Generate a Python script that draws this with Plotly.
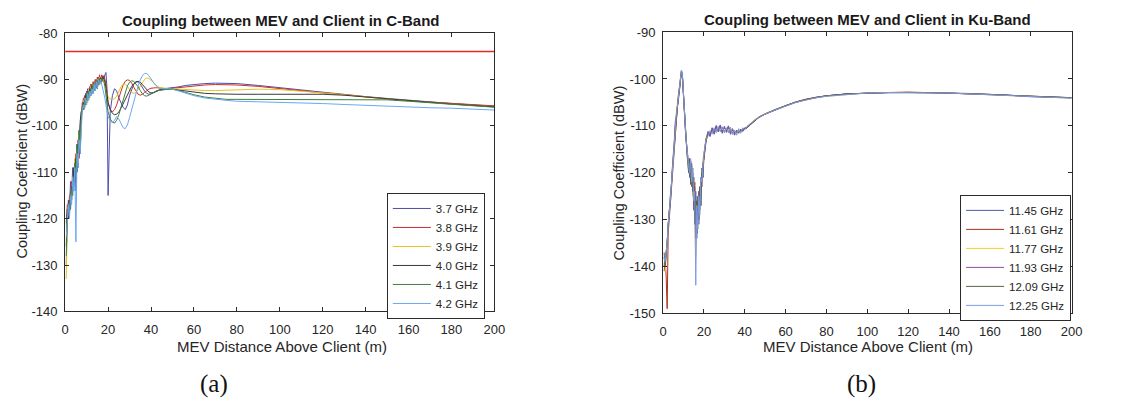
import plotly.graph_objects as go

# ---------------- C-band data ----------------
x_c = [0.5, 1, 1.5, 2, 2.5, 3, 3.5, 4, 4.5, 5, 5.5, 6, 6.5, 7, 7.5, 8, 8.5, 9, 9.5, 10,
       10.5, 11, 11.5, 12, 12.5, 13, 13.5, 14, 14.5, 15, 15.5, 16, 16.5, 17, 17.5, 18, 18.5, 19, 19.5, 20,
       21, 22, 23, 24, 25, 26, 27, 28, 29, 30, 31, 32, 33, 34, 35, 36, 37, 38, 39, 40, 41, 42, 43, 44,
       46, 48, 50, 53, 56, 60, 65, 70, 75, 80,
       90, 100, 110, 120, 130, 140, 150, 160, 170, 180, 190, 200]

c_labels = ["3.7 GHz", "3.8 GHz", "3.9 GHz", "4.0 GHz", "4.1 GHz", "4.2 GHz"]

c_37 = [-130, -119, -116, -118, -112, -115, -109, -113, -108, -114, -104, -109, -101, -106, -97, -96, -94, -96, -93, -95,
        -92, -94, -91.5, -93.5, -91, -93, -90.5, -92, -90, -92, -89.5, -91, -89.5, -90.5, -89.2, -90, -89, -88.5, -92, -115,
        -97, -93.5, -92, -92.5, -94, -95, -96, -96.5, -95.5, -93.5, -92, -91, -90.6, -90.5, -91, -91.8, -92.5, -93, -93.2, -93.1, -92.9, -92.6, -92.4, -92.2,
        -92.0, -91.9, -91.8, -91.6, -91.3, -91.1, -90.9, -90.8, -90.8, -90.9,
        -91.3, -91.8, -92.3, -92.8, -93.3, -93.7, -94.1, -94.5, -94.9, -95.2, -95.5, -95.8]

c_38 = [-121, -117, -119, -115, -117, -112, -114, -110, -112, -106, -109, -103, -107, -100, -98, -95, -96.5, -93.5, -95.5, -92.5,
        -94.5, -92, -93.5, -91, -93, -90.5, -92.5, -90, -91.5, -89.5, -91, -89, -90.5, -89, -90, -89.2, -90, -91, -93, -95,
        -96.5, -97, -96.5, -95.5, -94, -92.5, -91.2, -90.4, -90.1, -90.2, -90.8, -91.7, -92.6, -93.2, -93.4, -93.2, -92.8, -92.4, -92.1, -91.9, -91.8, -91.8, -91.8, -91.9,
        -92.0, -92.0, -91.9, -91.8, -91.6, -91.4, -91.2, -91.1, -91.1, -91.2,
        -91.5, -92.0, -92.4, -92.9, -93.3, -93.8, -94.2, -94.6, -94.9, -95.2, -95.5, -95.7]

c_39 = [-133, -120, -117, -119, -114, -116, -111, -113, -107, -111, -105, -108, -102, -104, -98, -96, -95, -94, -96, -93,
        -95, -92, -94, -91.5, -93, -91, -92.5, -90.5, -92, -90, -91.5, -89.5, -91, -89.5, -90.5, -90, -91, -92, -93, -93.8,
        -94.2, -94.3, -94.2, -93.6, -92.6, -91.6, -91.0, -91.0, -91.5, -92.2, -92.8, -93.0, -92.8, -92.2, -91.4, -90.6, -90.0, -89.7, -89.8, -90.2, -90.7, -91.2, -91.5, -91.7,
        -91.9, -92.0, -92.0, -92.1, -92.2, -92.3, -92.4, -92.4, -92.3, -92.2,
        -92.1, -92.2, -92.5, -92.9, -93.3, -93.8, -94.2, -94.6, -95.0, -95.3, -95.6, -95.9]

c_40 = [-126, -118, -120, -116, -118, -113, -115, -109, -112, -107, -110, -104, -106, -99, -97, -96.5, -95, -95.5, -93.5, -94.5,
        -93, -94, -92, -93, -91.5, -92.5, -91, -92, -90.5, -91.5, -90, -91, -89.8, -90.5, -89.5, -89.8, -90.5, -91.5, -93, -95,
        -96.5, -97.3, -97.6, -97.5, -97, -96.2, -95.2, -94.2, -93.2, -92.3, -91.5, -90.9, -90.5, -90.4, -90.6, -91.1, -91.7, -92.3, -92.7, -92.9, -92.9, -92.7, -92.5, -92.3,
        -92.2, -92.1, -92.1, -92.3, -92.5, -92.8, -93.0, -93.1, -93.2, -93.2,
        -93.2, -93.2, -93.2, -93.2, -93.4, -93.8, -94.2, -94.6, -95.0, -95.3, -95.6, -95.9]

c_41 = [-128, -119, -117, -119, -114, -116, -112, -114, -108, -111, -104, -107, -101, -105, -99, -96, -96.5, -94.5, -95.5, -93,
        -94.5, -92.5, -93.5, -92, -93, -91, -92.5, -90.5, -91.8, -90.2, -91.2, -89.8, -90.6, -89.6, -90.2, -90.4, -91.5, -93, -95, -97,
        -98.5, -99.2, -99.4, -98.8, -97.6, -96, -94.3, -92.7, -91.4, -90.6, -90.3, -90.4, -90.9, -91.6, -92.4, -93.1, -93.5, -93.6, -93.4, -93.1, -92.8, -92.6, -92.4, -92.3,
        -92.2, -92.1, -92.1, -92.4, -92.8, -93.3, -93.8, -94.1, -94.3, -94.3,
        -94.3, -94.3, -94.3, -94.3, -94.3, -94.3, -94.4, -94.7, -95.0, -95.4, -95.7, -96.0]

c_42 = [-124, -120, -117, -120, -115, -117, -111, -114, -109, -125, -106, -109, -103, -106, -100, -96.5, -95.5, -96.5, -94, -95.5,
        -93, -94.5, -92.5, -93.5, -92, -93, -91, -92.5, -90.5, -91.8, -90, -91.2, -90, -91, -91.5, -92.5, -94, -95.5, -97, -98,
        -99, -99.3, -98.8, -98, -98.5, -99.6, -100.4, -100.6, -99.8, -98.2, -96.4, -94.6, -92.9, -91.4, -90.1, -89.2, -88.7, -88.7, -89.2, -89.9, -90.6, -91.2, -91.6, -91.9,
        -92.0, -92.0, -92.1, -92.5, -93.0, -93.5, -94.0, -94.3, -94.5, -94.7,
        -94.8, -94.9, -95.0, -95.2, -95.4, -95.6, -95.8, -95.9, -96.1, -96.2, -96.4, -96.6]

c_ref_x = [0, 200]
c_ref_y = [-84.0, -84.0]

# ---------------- Ku-band data ----------------
x_k = [0.5, 1, 1.5, 2, 2.5, 3, 3.5, 4, 4.5, 5, 5.5, 6, 6.5, 7, 7.5, 8, 8.5, 9, 9.5, 10,
       10.5, 11, 11.5, 12, 12.5, 13, 13.5, 14, 14.5, 15, 15.5, 16, 16.5, 17, 17.5, 18, 18.5, 19, 19.5, 20,
       21, 22, 23, 24, 25, 26, 27, 28, 29, 30, 31, 32, 33, 34, 35, 36, 37, 38, 39, 40, 41, 42, 43, 44, 45,
       47, 50, 55, 60, 65, 70, 75, 80,
       90, 100, 110, 120, 130, 140, 150, 160, 170, 180, 190, 200]

k_labels = ["11.45 GHz", "11.61 GHz", "11.77 GHz", "11.93 GHz", "12.09 GHz", "12.25 GHz"]

k_1145 = [-138, -140, -137, -135, -131, -129, -126, -123, -120, -116, -113, -110, -107.5, -106, -104, -102, -99.5, -98.2, -99.5, -104,
          -108, -111, -114, -117, -119.5, -117, -121, -118.5, -123, -121, -130, -124, -134, -125, -131, -123, -127, -119, -121, -116,
          -113, -111.2, -112.3, -110.4, -111.8, -109.9, -111.3, -109.8, -111.6, -110.1, -111.4, -110, -111.8, -110.6, -112, -110.9, -111.6, -110.7, -111.2, -110.4, -110.5, -110, -109.6, -109.2, -108.8,
          -108.2, -107.5, -106.6, -105.8, -105.0, -104.4, -104.0, -103.6,
          -103.2, -103.0, -102.9, -102.9, -102.9, -103.0, -103.1, -103.3, -103.5, -103.8, -103.9, -104.0]

k_1161 = [-140, -138, -142, -149, -133, -130, -127, -124, -121, -117, -114, -111, -108, -106, -104.5, -102, -100, -98.5, -99.8, -104.5,
          -108.5, -111.5, -114.5, -117.5, -118, -120, -117.5, -122, -119, -127, -122, -132, -126, -130, -124, -128, -122, -123, -118, -117,
          -113.5, -111.6, -111.7, -110.9, -111.2, -110.3, -110.9, -110.2, -111.2, -110.5, -111, -110.3, -111.4, -110.9, -111.6, -111.1, -111.3, -110.9, -111, -110.5, -110.4, -110, -109.5, -109.1, -108.7,
          -108.1, -107.4, -106.5, -105.7, -104.9, -104.3, -103.9, -103.6,
          -103.2, -103.0, -102.9, -102.8, -102.9, -103.0, -103.2, -103.3, -103.5, -103.7, -103.9, -104.0]

k_1177 = [-139, -141, -138, -134, -132, -128, -126, -122, -120, -117, -112, -110, -107, -105.5, -104, -101.5, -99.6, -98.4, -99.7, -103.8,
          -107.5, -111, -114, -116.5, -119, -117.5, -122, -119, -125, -122, -129, -138, -128, -132, -125, -127, -121, -122, -117, -116,
          -112.6, -112, -111.2, -111.5, -110.6, -111.2, -110.2, -111.1, -110.4, -111.3, -110.6, -111.3, -110.5, -111.7, -111.1, -111.7, -110.8, -111.4, -110.5, -110.8, -110.2, -109.8, -109.4, -109, -108.6,
          -108.2, -107.4, -106.6, -105.8, -105.0, -104.5, -104.0, -103.7,
          -103.3, -103.0, -102.9, -102.9, -103.0, -103.0, -103.2, -103.4, -103.6, -103.8, -103.9, -104.1]

k_1193 = [-141, -139, -136, -135, -131, -129, -125, -123, -119, -117, -113, -109, -108, -105.5, -104, -102.5, -99.4, -98.2, -99.4, -104.2,
          -107.8, -111.2, -113.8, -117, -118, -121, -117.5, -123, -120, -128, -123, -134, -127, -131, -124, -126, -121, -122, -118, -117,
          -113.2, -111.4, -112.1, -110.6, -111.6, -110.1, -111.1, -109.9, -111.4, -110.3, -111.2, -110.1, -111.6, -110.8, -111.8, -111, -111.5, -110.8, -111.1, -110.6, -110.5, -110.1, -109.6, -109.2, -108.8,
          -108.2, -107.5, -106.6, -105.7, -105.0, -104.4, -104.0, -103.6,
          -103.2, -103.0, -102.9, -102.9, -102.9, -103.0, -103.2, -103.3, -103.5, -103.8, -103.9, -104.0]

k_1209 = [-137, -140, -138, -134, -132, -128, -127, -122, -120, -116, -114, -110, -107, -106, -103.5, -102, -99.8, -98.4, -99.6, -103.6,
          -108.2, -110.8, -114.2, -117.2, -120, -117, -122.5, -118, -124, -121, -131, -125, -133, -126, -130, -123, -127, -120, -121, -116.8,
          -112.8, -111.9, -111.4, -111.2, -110.8, -111, -110.4, -111, -110.6, -111.1, -110.8, -111.1, -110.8, -111.5, -111.3, -111.5, -111, -111.3, -110.7, -110.7, -110.3, -109.9, -109.5, -109.1, -108.7,
          -108.1, -107.5, -106.5, -105.7, -104.9, -104.4, -103.9, -103.6,
          -103.2, -103.0, -102.9, -102.9, -102.9, -103.0, -103.2, -103.3, -103.5, -103.7, -103.9, -104.0]

k_1225 = [-138, -139, -137, -135, -131, -129, -126, -123, -119.5, -116.5, -113, -110, -107.5, -105.8, -104, -101.8, -99.2, -98.1, -99.3, -104,
          -108, -111, -114, -117, -118.5, -120, -117, -122, -119, -126, -124, -144, -127, -132, -125, -129, -121, -122, -118, -116,
          -113, -112.2, -111, -111.8, -110.4, -111.5, -110.1, -111.3, -110.2, -111.5, -110.4, -111.5, -110.3, -111.9, -110.9, -112, -110.6, -111.6, -110.4, -110.9, -110.1, -109.8, -109.5, -109.1, -108.7,
          -108.2, -107.5, -106.6, -105.8, -105.0, -104.5, -104.0, -103.7,
          -103.3, -103.0, -102.9, -102.9, -102.9, -103.0, -103.2, -103.4, -103.6, -103.8, -104.0, -104.1]

x_ticks = [0, 20, 40, 60, 80, 100, 120, 140, 160, 180, 200]
x_ticktext = ["0", "20", "40", "60", "80", "100", "120", "140", "160", "180", "200"]
c_yticks = [-140, -130, -120, -110, -100, -90, -80]
c_yticktext = ["-140", "-130", "-120", "-110", "-100", "-90", "-80"]
k_yticks = [-150, -140, -130, -120, -110, -100, -90]
k_yticktext = ["-150", "-140", "-130", "-120", "-110", "-100", "-90"]

# ---------------- styling ----------------
W, H = 1123, 411
FONT = "Liberation Sans"
AX = "#2b2b2b"
TXT = "#262626"
c_colors = ["#4d4dad", "#c8302a", "#e8c21e", "#3a3a3a", "#3f7f3f", "#6aa8f2"]
k_colors = ["#4a5aa8", "#a8301c", "#f0d020", "#8a4f9e", "#566648", "#7b9be8"]

fig = go.Figure()

for ys, name, col in zip([c_37, c_38, c_39, c_40, c_41, c_42], c_labels, c_colors):
    fig.add_trace(go.Scatter(x=x_c, y=ys, mode="lines", name=name,
                             line=dict(color=col, width=1), xaxis="x", yaxis="y", legend="legend"))
fig.add_trace(go.Scatter(x=c_ref_x, y=c_ref_y, mode="lines", showlegend=False,
                         line=dict(color="#e02a2a", width=1.5), xaxis="x", yaxis="y"))

for ys, name, col in zip([k_1145, k_1161, k_1177, k_1193, k_1209, k_1225], k_labels, k_colors):
    fig.add_trace(go.Scatter(x=x_k, y=ys, mode="lines", name=name,
                             line=dict(color=col, width=1), xaxis="x2", yaxis="y2", legend="legend2"))


def px_x(p):
    return p / W


def px_y(p):
    return 1 - p / H


axis_common = dict(showline=True, linecolor=AX, linewidth=1, mirror="ticks", ticks="inside",
                   ticklen=4, tickcolor=AX, tickwidth=1, showgrid=False, zeroline=False,
                   tickfont=dict(family=FONT, size=13, color=TXT))

fig.update_layout(
    width=W, height=H, margin=dict(l=0, r=0, t=0, b=0),
    paper_bgcolor="white", plot_bgcolor="white",
    font=dict(family=FONT, color=TXT),
    xaxis=dict(domain=[px_x(62), px_x(497)], range=[0, 200], tickvals=x_ticks, ticktext=x_ticktext,
               anchor="y", ticklabelstandoff=6, **axis_common),
    yaxis=dict(domain=[px_y(316), px_y(27)], range=[-140, -80], tickvals=c_yticks, ticktext=c_yticktext,
               anchor="x", ticklabelstandoff=4, **axis_common),
    xaxis2=dict(domain=[px_x(668), px_x(1082)], range=[0, 200], tickvals=x_ticks, ticktext=x_ticktext,
                anchor="y2", ticklabelstandoff=6, **axis_common),
    yaxis2=dict(domain=[px_y(318), px_y(26)], range=[-150, -90], tickvals=k_yticks, ticktext=k_yticktext,
                anchor="x2", ticklabelstandoff=4, **axis_common),
    legend=dict(x=px_x(388), y=px_y(193), xanchor="left", yanchor="top",
                bgcolor="white", bordercolor=AX, borderwidth=1,
                font=dict(family=FONT, size=11.5, color=TXT), itemwidth=38,
                tracegroupgap=0),
    legend2=dict(x=px_x(969), y=px_y(195), xanchor="left", yanchor="top",
                 bgcolor="white", bordercolor=AX, borderwidth=1,
                 font=dict(family=FONT, size=11.5, color=TXT), itemwidth=38,
                 tracegroupgap=0),
    showlegend=True,
)

ann = []
title_font = dict(family=FONT, size=15, color="#1a1a1a")
ann.append(dict(text="<b>Coupling between MEV and Client in C-Band</b>", x=px_x(281), y=px_y(14),
                xref="paper", yref="paper", showarrow=False, font=title_font, xanchor="center", yanchor="middle"))
ann.append(dict(text="<b>Coupling between MEV and Client in Ku-Band</b>", x=px_x(875), y=px_y(13),
                xref="paper", yref="paper", showarrow=False, font=title_font, xanchor="center", yanchor="middle"))
xlab_font = dict(family=FONT, size=15, color=TXT)
ylab_font = dict(family=FONT, size=14.5, color=TXT)
ann.append(dict(text="MEV Distance Above Client (m)", x=px_x(282), y=px_y(352), xref="paper", yref="paper",
                showarrow=False, font=xlab_font, xanchor="center", yanchor="middle"))
ann.append(dict(text="MEV Distance Above Client (m)", x=px_x(876), y=px_y(352), xref="paper", yref="paper",
                showarrow=False, font=xlab_font, xanchor="center", yanchor="middle"))
ann.append(dict(text="Coupling Coefficient (dBW)", x=px_x(18), y=px_y(170), xref="paper", yref="paper",
                showarrow=False, font=ylab_font, textangle=-90, xanchor="center", yanchor="middle"))
ann.append(dict(text="Coupling Coefficient (dBW)", x=px_x(623), y=px_y(172), xref="paper", yref="paper",
                showarrow=False, font=ylab_font, textangle=-90, xanchor="center", yanchor="middle"))
sub_font = dict(family="Liberation Serif", size=25, color="#111111")
ann.append(dict(text="(a)", x=px_x(213), y=px_y(391), xref="paper", yref="paper",
                showarrow=False, font=sub_font, xanchor="center", yanchor="middle"))
ann.append(dict(text="(b)", x=px_x(869), y=px_y(391), xref="paper", yref="paper",
                showarrow=False, font=sub_font, xanchor="center", yanchor="middle"))
fig.update_layout(annotations=ann)

fig.write_html("out.html")
